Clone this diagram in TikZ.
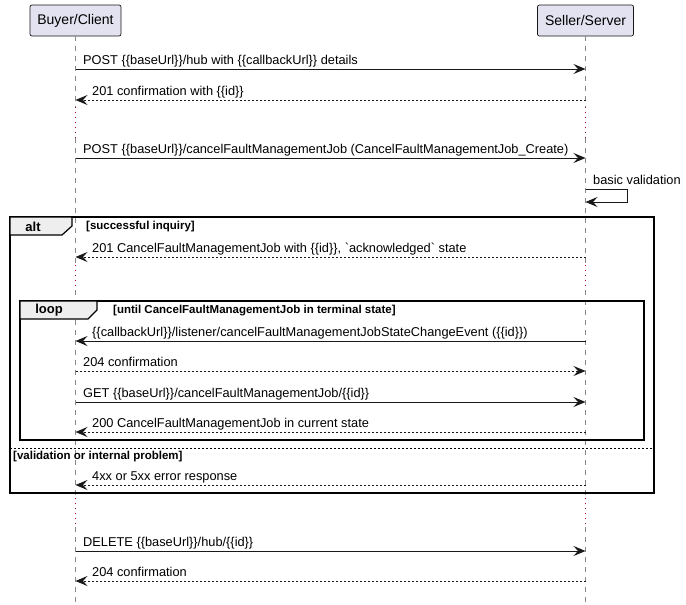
\documentclass[tikz,border=0pt]{standalone}
\usepackage{fontspec}
\setmainfont{Liberation Sans}
\usetikzlibrary{arrows.meta}
\definecolor{partfill}{HTML}{E2E2F0}
\definecolor{partline}{HTML}{181818}
\definecolor{lifeg}{HTML}{888888}
\definecolor{delayc}{HTML}{A80036}
\definecolor{tabfill}{HTML}{EEEEEE}
\tikzset{
  part/.style={draw=partline, fill=partfill, rounded corners=2pt, line width=0.7pt,
    minimum height=31pt, inner xsep=7pt, font=\fontsize{14}{16}\selectfont},
  life/.style={draw=lifeg, line width=0.7pt, dash pattern=on 5pt off 5pt},
  delay/.style={draw=delayc, line width=0.8pt, dash pattern=on 1pt off 4pt},
  msg/.style={draw=black!90, line width=0.9pt, -{Stealth[length=12pt,width=10pt,inset=4.5pt]}},
  rmsg/.style={msg, dash pattern=on 2pt off 2pt},
  mtext/.style={anchor=base west, inner sep=0pt, font=\fontsize{12.8}{15}\selectfont},
  frame/.style={draw=black, line width=1.5pt},
  tab/.style={draw=black, line width=1.2pt, fill=tabfill},
  tablabel/.style={font=\bfseries\fontsize{13}{15}\selectfont, inner sep=0pt},
  guard/.style={anchor=west, inner sep=0pt, font=\bfseries\fontsize{11.5}{13}\selectfont},
}
\begin{document}
\begin{tikzpicture}[x=1pt,y=-1pt]
\useasboundingbox (0,0) rectangle (686,605);
% participants
\node[part, minimum width=91pt] (B) at (75.5,20.5) {Buyer/Client};
\node[part, minimum width=96pt] (S) at (585.5,20.5) {Seller/Server};
% lifelines
\foreach \x in {75.5,585.5}{
  \draw[life] (\x,36) -- (\x,107);
  \draw[delay] (\x,107) -- (\x,138);
  \draw[life] (\x,138) -- (\x,265);
  \draw[delay] (\x,265) -- (\x,290);
  \draw[life] (\x,290) -- (\x,498);
  \draw[delay] (\x,498) -- (\x,527);
  \draw[life] (\x,527) -- (\x,605);
}
% alt frame
\draw[frame] (10,217) rectangle (654,493);
\draw[tab] (10,217) -- (72,217) -- (72,226) -- (62,235) -- (10,235) -- cycle;
\node[tablabel] (alt) at (33,226.5) {alt};
\node[guard] (g1) at (86,227) {[successful inquiry]};
% loop frame
\draw[frame] (20,301) rectangle (644,440);
\draw[tab] (20,301) -- (97,301) -- (97,310) -- (88,319) -- (20,319) -- cycle;
\node[tablabel] (loop) at (49,310.5) {loop};
\node[guard] (g2) at (113,311) {[until CancelFaultManagementJob in terminal state]};
% else
\draw[black, line width=0.7pt, dash pattern=on 2pt off 2pt] (10,448) -- (654,448);
\node[guard] (g3) at (13,457) {[validation or internal problem]};
% message endpoints
\foreach \i/\y in {1/69,2/100,3/158,6/257,8/341,9/371,10/402,11/432,13/485,14/551,15/581}{
  \coordinate (b\i) at (75.5,\y);
  \coordinate (s\i) at (585.5,\y);
}
\coordinate (sv1) at (627,189);
\coordinate (sv2) at (627,202);
\coordinate (s4a) at (585.5,189);
\coordinate (s4b) at (585.5,202);
% messages
\draw[msg] (b1) -- (s1);
\node[mtext] (t1) at (83,64) {POST \{\{baseUrl\}\}/hub with \{\{callbackUrl\}\} details};
\draw[rmsg] (s2) -- (b2);
\node[mtext] (t2) at (92,95) {201 confirmation with \{\{id\}\}};
\draw[msg] (b3) -- (s3);
\node[mtext] (t3) at (83,153) {POST \{\{baseUrl\}\}/cancelFaultManagementJob (CancelFaultManagementJob\_Create)};
\draw[msg] (s4a) -- (sv1) -- (sv2) -- (s4b);
\node[mtext] (t4) at (593,184) {basic validation};
\draw[rmsg] (s6) -- (b6);
\node[mtext] (t6) at (92,252) {201 CancelFaultManagementJob with \{\{id\}\}, \textasciigrave acknowledged\textasciigrave{} state};
\draw[msg] (s8) -- (b8);
\node[mtext] (t8) at (92,336) {\{\{callbackUrl\}\}/listener/cancelFaultManagementJobStateChangeEvent (\{\{id\}\})};
\draw[rmsg] (b9) -- (s9);
\node[mtext] (t9) at (83,366) {204 confirmation};
\draw[msg] (b10) -- (s10);
\node[mtext] (t10) at (83,397) {GET \{\{baseUrl\}\}/cancelFaultManagementJob/\{\{id\}\}};
\draw[rmsg] (s11) -- (b11);
\node[mtext] (t11) at (92,427) {200 CancelFaultManagementJob in current state};
\draw[rmsg] (s13) -- (b13);
\node[mtext] (t13) at (92,480) {4xx or 5xx error response};
\draw[msg] (b14) -- (s14);
\node[mtext] (t14) at (83,546) {DELETE \{\{baseUrl\}\}/hub/\{\{id\}\}};
\draw[rmsg] (s15) -- (b15);
\node[mtext] (t15) at (92,576) {204 confirmation};
\end{tikzpicture}
\end{document}
